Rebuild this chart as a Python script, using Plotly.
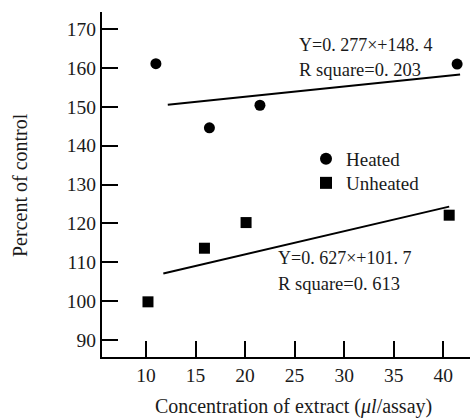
import plotly.graph_objects as go

# Data
heated_x = [11.0, 16.4, 21.5, 41.4]
heated_y = [161.1, 144.6, 150.4, 161.0]
unheated_x = [10.2, 15.9, 20.1, 40.6]
unheated_y = [99.8, 113.6, 120.2, 122.1]

# Regression lines as drawn (end points)
heated_fit_x = [12.2, 41.7]
heated_fit_y = [150.5, 158.3]
unheated_fit_x = [11.75, 40.6]
unheated_fit_y = [107.1, 124.3]

x_ticks = [10, 15, 20, 25, 30, 35, 40]
y_ticks = [90, 100, 110, 120, 130, 140, 150, 160, 170]

x_title = "Concentration of extract (<i>μl</i>/assay)"
y_title = "Percent of control"

FONT = "Liberation Serif"
TXT = "#1a1a1a"
L, B, W, H = 102, 63, 368, 345

fig = go.Figure()
fig.add_trace(go.Scatter(x=heated_fit_x, y=heated_fit_y, mode="lines",
                         line=dict(color="black", width=2), showlegend=False))
fig.add_trace(go.Scatter(x=unheated_fit_x, y=unheated_fit_y, mode="lines",
                         line=dict(color="black", width=2), showlegend=False))
fig.add_trace(go.Scatter(x=heated_x, y=heated_y, mode="markers", name="Heated",
                         legend="legend",
                         marker=dict(symbol="circle", size=11, color="black")))
fig.add_trace(go.Scatter(x=unheated_x, y=unheated_y, mode="markers", name="Unheated",
                         legend="legend2",
                         marker=dict(symbol="square", size=11, color="black")))

leg_common = dict(xanchor="left", yanchor="middle", bgcolor="rgba(0,0,0,0)",
                  font=dict(size=19, family=FONT, color=TXT), itemsizing="constant")
fig.update_layout(
    width=470, height=420,
    margin=dict(l=L, r=0, t=12, b=B, autoexpand=False),
    paper_bgcolor="white", plot_bgcolor="white",
    font=dict(family=FONT, size=17, color=TXT),
    showlegend=True,
    legend=dict(x=(306 - L) / W, y=(420 - B - 159) / H, **leg_common),
    legend2=dict(x=(306 - L) / W, y=(420 - B - 183) / H, **leg_common),
)
axis_common = dict(ticks="inside", ticklen=16, tickwidth=2, tickcolor="black",
                   showline=True, linecolor="black", linewidth=2, showgrid=False,
                   zeroline=False, automargin=False,
                   tickfont=dict(size=19.5, family=FONT, color=TXT))
fig.update_xaxes(range=[5.56, 42.7], tickvals=x_ticks, **axis_common)
fig.update_yaxes(range=[85.6, 174.4], tickvals=y_ticks, **axis_common)

# Axis titles
fig.add_annotation(x=(293 - L) / W, y=(420 - B - 406) / H, xref="paper", yref="paper",
                   text=x_title, showarrow=False, xanchor="center", yanchor="middle",
                   font=dict(size=20, family=FONT, color=TXT))
fig.add_annotation(x=(20 - L) / W, y=(420 - B - 185) / H, xref="paper", yref="paper",
                   text=y_title, showarrow=False, xanchor="center", yanchor="middle",
                   textangle=-90, font=dict(size=20, family=FONT, color=TXT))

annots = [
    (297, 45, "Y=0. 277×+148. 4", 18),
    (297, 70, "R square=0. 203", 18.5),
    (276, 258, "Y=0. 627×+101. 7", 18),
    (276, 284, "R square=0. 613", 18.5),
]
for px, py, t, fs in annots:
    fig.add_annotation(x=(px - L) / W, y=(420 - B - py) / H, xref="paper", yref="paper",
                       text=t, showarrow=False, xanchor="left", yanchor="middle",
                       font=dict(size=fs, family=FONT, color=TXT))

fig.write_html("out.html")
